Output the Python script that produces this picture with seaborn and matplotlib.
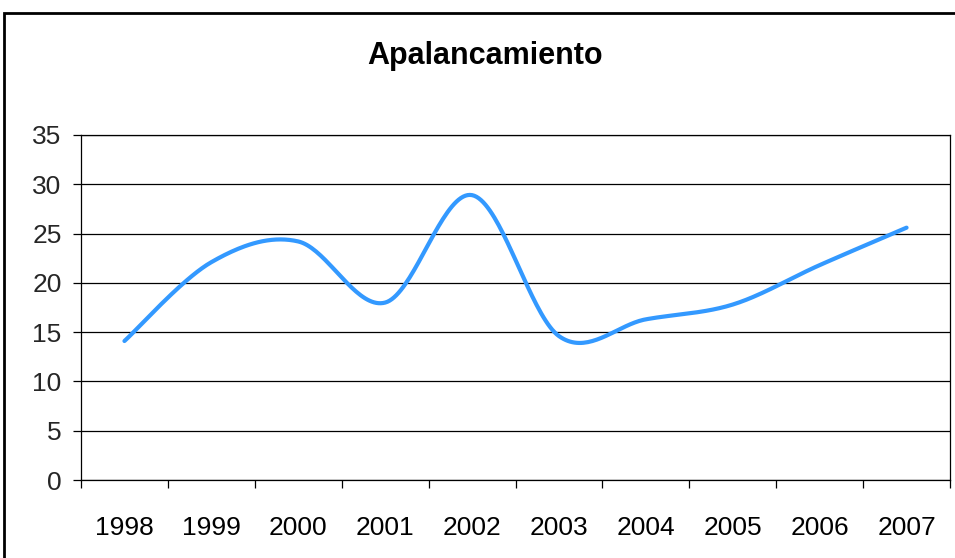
import numpy as np
import pandas as pd
import matplotlib
matplotlib.use("Agg")
import matplotlib.pyplot as plt
import seaborn as sns
from matplotlib.patches import Rectangle
from matplotlib.ticker import FixedLocator

years = ["1998", "1999", "2000", "2001", "2002", "2003", "2004", "2005", "2006", "2007"]
apalancamiento = [14.1, 22.1, 24.2, 18.0, 28.9, 14.6, 16.3, 17.8, 21.8, 25.6]
y_ticks = [0, 5, 10, 15, 20, 25, 30, 35]
title = "Apalancamiento"

sns.set_theme(style="white")
plt.rcParams["font.family"] = ["Liberation Sans", "DejaVu Sans"]


def smooth(xs, ys, n=40):
    """Excel-style smoothed line: cubic Bezier segments with Catmull-Rom control points."""
    P = np.column_stack([xs, ys]).astype(float)
    Pe = np.vstack([P[0], P, P[-1]])
    out = []
    t = np.linspace(0, 1, n)[:, None]
    for i in range(len(P) - 1):
        p0 = Pe[i + 1]
        p3 = Pe[i + 2]
        c1 = p0 + (Pe[i + 2] - Pe[i]) / 6.0
        c2 = p3 - (Pe[i + 3] - Pe[i + 1]) / 6.0
        seg = ((1 - t) ** 3) * p0 + 3 * ((1 - t) ** 2) * t * c1 + 3 * (1 - t) * t ** 2 * c2 + t ** 3 * p3
        out.append(seg if i == 0 else seg[1:])
    return np.vstack(out)


pos = np.arange(len(years))
curve = smooth(pos, apalancamiento)
df = pd.DataFrame({"x": curve[:, 0], "y": curve[:, 1]})

fig = plt.figure(figsize=(9.55, 5.58), dpi=100)
fig.patch.set_facecolor("white")
ax = fig.add_axes([81 / 955, 1 - 480 / 558, (950 - 81) / 955, (480 - 135) / 558])

sns.lineplot(data=df, x="x", y="y", ax=ax, color="#3399FF", linewidth=3.0,
             sort=False, estimator=None)

ax.set_xlim(-0.5, len(years) - 0.5)
ax.set_ylim(0, 35)
ax.set_yticks(y_ticks)
ax.set_yticklabels([str(v) for v in y_ticks])
ax.yaxis.grid(True, color="black", linewidth=0.9)
ax.set_axisbelow(True)

ax.set_xticks(pos)
ax.set_xticklabels(years)
ax.xaxis.set_minor_locator(FixedLocator(np.arange(len(years) + 1) - 0.5))
ax.tick_params(axis="x", which="major", length=0, pad=26, labelsize=19, colors="black")
ax.tick_params(axis="x", which="minor", length=6, width=0.9, color="black", direction="out", bottom=True)
ax.tick_params(axis="y", which="major", length=6, width=0.9, color="black", direction="out",
               pad=8, labelsize=19, left=True)
ax.set_xlabel("")
ax.set_ylabel("")
for s in ax.spines.values():
    s.set_visible(True)
    s.set_color("black")
    s.set_linewidth(0.9)

fig.text(485 / 955, 1 - 56 / 558, title, ha="center", va="center",
         fontsize=22, fontweight="bold", color="black")

fig.patches.append(Rectangle((4 / 955, -0.05), 1.2, 1 - 13 / 558 + 0.05,
                             transform=fig.transFigure, fill=False,
                             edgecolor="black", linewidth=2.0))

fig.savefig("out.png", dpi=100, facecolor="white")
